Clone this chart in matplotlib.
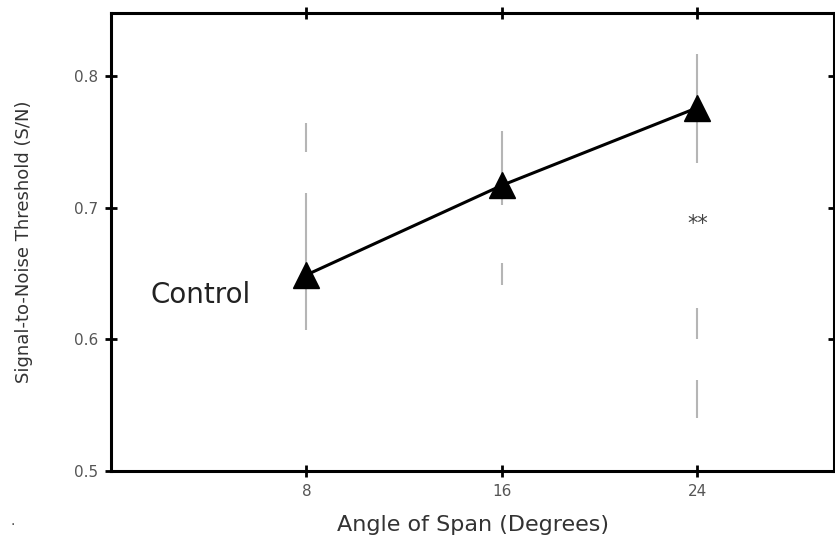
import matplotlib.pyplot as plt

# mean thresholds for the control condition
angles = [8, 16, 24]
threshold = [0.649, 0.717, 0.776]

# visible pieces of the grey error bars (x, low, high); the bars are broken in the source
bar_x = [8, 8, 16, 16, 24, 24, 24]
bar_lo = [0.742, 0.607, 0.702, 0.641, 0.734, 0.600, 0.540]
bar_hi = [0.764, 0.711, 0.758, 0.658, 0.817, 0.624, 0.569]

x_ticks = [8, 16, 24]
y_ticks = [0.5, 0.6, 0.7, 0.8]

fig = plt.figure(figsize=(8.35, 5.38), dpi=100)
ax = fig.add_axes([0.133, 0.1245, 0.866, 0.8515])

ax.vlines(bar_x, bar_lo, bar_hi, colors="#b5b5b5", linewidth=1.5, zorder=1)
ax.plot(angles, threshold, color="black", linewidth=2.2, marker="^",
        markersize=19, zorder=3, clip_on=False)

ax.text(1.6, 0.634, "Control", fontsize=20, va="center", ha="left", color="#222222")
ax.text(24, 0.688, "**", fontsize=15, va="center", ha="center", color="#444444")

ax.set_xlim(0, 29.6)
ax.set_ylim(0.5, 0.848)
ax.set_xticks(x_ticks)
ax.set_yticks(y_ticks)
ax.set_yticklabels([f"{v:.1f}" for v in y_ticks])
ax.tick_params(direction="inout", length=8, width=2, labelsize=11,
               labelcolor="#555555", top=True, right=True, pad=5)

for side in ax.spines.values():
    side.set_linewidth(2.2)

ax.set_xlabel("Angle of Span (Degrees)", fontsize=16, color="#333333", labelpad=12)
ax.set_ylabel("Signal-to-Noise Threshold (S/N)", fontsize=13, color="#333333", labelpad=30)

fig.text(0.012, 0.025, ".", fontsize=10, color="#444444")

fig.savefig("out.png", dpi=100)
